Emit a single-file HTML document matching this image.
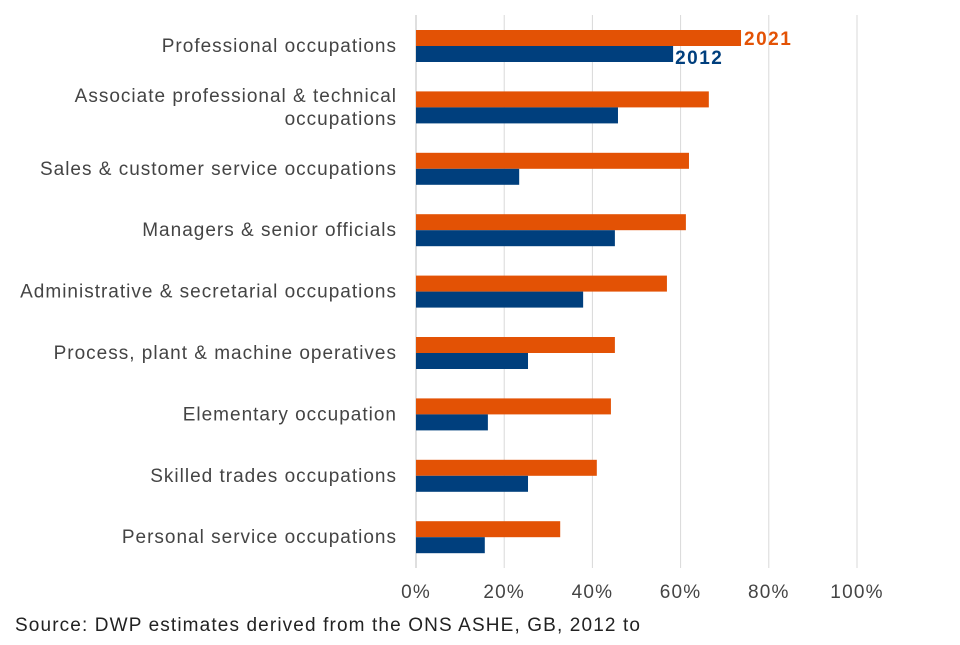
<!DOCTYPE html>
<html><head><meta charset="utf-8"><style>
body{margin:0;background:#fff;width:960px;height:640px;overflow:hidden;font-family:"Liberation Sans",sans-serif}
svg text{font-family:"Liberation Sans",sans-serif}
</style></head><body>
<svg id="chart" width="960" height="640">
<g id="grid"></g><g id="bars"></g><g id="labels"></g>
<text x="15" y="631" font-size="19" fill="#222" textLength="625">Source: DWP estimates derived from the ONS ASHE, GB, 2012 to</text>
</svg>
<script>
const categories=["Professional occupations","Associate professional & technical|occupations","Sales & customer service occupations","Managers & senior officials","Administrative & secretarial occupations","Process, plant & machine operatives","Elementary occupation","Skilled trades occupations","Personal service occupations"];
const values2021=[73.7,66.4,61.9,61.2,56.9,45.1,44.2,41.0,32.7];
const values2012=[58.3,45.8,23.4,45.1,37.9,25.4,16.3,25.4,15.6];
const ticks=[0,20,40,60,80,100];
const NS="http://www.w3.org/2000/svg";
const x0=416,x1=857,plotTop=15,band=61.4;
const xs=v=>x0+(x1-x0)*v/100;
const yc=i=>46+band*i;
function mk(t,a,p){const e=document.createElementNS(NS,t);for(const k in a)e.setAttribute(k,a[k]);p.appendChild(e);return e;}
const g=document.getElementById('grid'),b=document.getElementById('bars'),l=document.getElementById('labels');
ticks.forEach(t=>{
 const ln=mk('line',{x1:xs(t),x2:xs(t),y1:plotTop,y2:568,stroke:t===0?'#bfbfbf':'#d9d9d9','stroke-width':1},g);
 
 
 const tx=mk('text',{x:xs(t),y:598,'text-anchor':'middle','font-size':19,'letter-spacing':1.2,fill:'#444'},g);
 tx.textContent=t+'%';
 
 
});
categories.forEach((c,i)=>{
 const y=yc(i);
 const r1=mk('rect',{x:x0,y:y-16,width:xs(values2021[i])-x0,height:16,fill:'#e35205'},b);
 
 
 const r2=mk('rect',{x:x0,y:y,width:xs(values2012[i])-x0,height:16,fill:'#003f7d'},b);
 
 
 const parts=c.split('|');
 const t=mk('text',{x:397,'text-anchor':'end','font-size':19,'letter-spacing':1,fill:'#444'},l);
 
 
 parts.forEach((p,j)=>{const s=mk('tspan',{x:397,y:y+6+(j-(parts.length-1)/2)*23},t);s.textContent=p;});
});
const a=mk('text',{x:xs(values2021[0])+3,y:yc(0)-1,'font-size':19,'letter-spacing':1.5,'font-weight':'bold',fill:'#e35205'},l);
a.textContent='2021';


const c2=mk('text',{x:xs(values2012[0])+2,y:yc(0)+18,'font-size':19,'letter-spacing':1.5,'font-weight':'bold',fill:'#003f7d'},l);
c2.textContent='2012';


</script>
</body></html>
